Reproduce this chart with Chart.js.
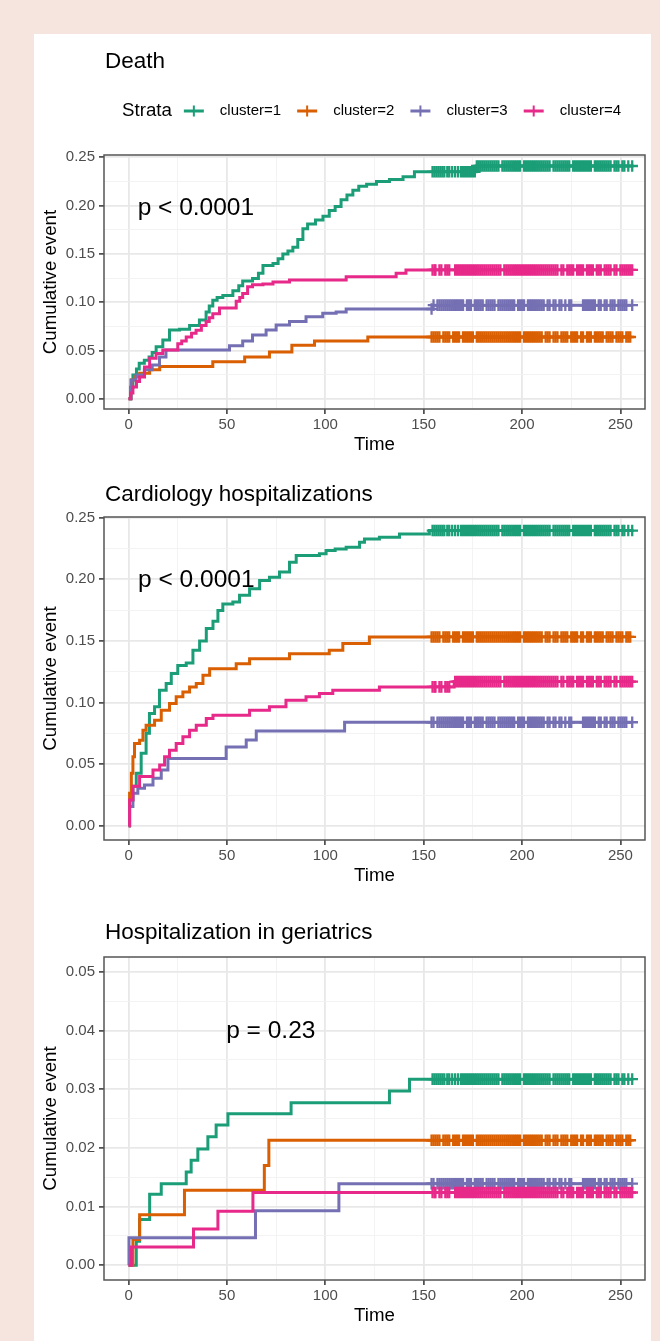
<!DOCTYPE html>
<html>
<head>
<meta charset="utf-8">
<script src="https://cdn.jsdelivr.net/npm/chart.js@4.4.0/dist/chart.umd.min.js"></script>
<style>
  body { margin: 0; background: #f6e4df; width: 660px; height: 1341px; overflow: hidden; position: relative; }
  #panel { position: absolute; left: 34px; top: 34px; width: 617px; height: 1307px; background: #fff; }
  canvas { position: absolute; left: 0; }
</style>
</head>
<body>
<div id="panel"></div>
<canvas id="deathChart" width="660" height="460" style="top:0"></canvas>
<canvas id="cardioChart" width="660" height="440" style="top:460px"></canvas>
<canvas id="geriChart" width="660" height="441" style="top:900px"></canvas>
<script>
const clusters = ["cluster=1", "cluster=2", "cluster=3", "cluster=4"];
const colors = ["#1B9E77", "#D95F02", "#7570B3", "#E7298A"];

const timeTicks = [0, 25, 50, 75, 100, 125, 150, 175, 200, 225, 250];
const timeLabels = ["0", "", "50", "", "100", "", "150", "", "200", "", "250"];
const riskTicks = [0, 0.025, 0.05, 0.075, 0.1, 0.125, 0.15, 0.175, 0.2, 0.225, 0.25];
const riskLabels = ["0.00", "", "0.05", "", "0.10", "", "0.15", "", "0.20", "", "0.25"];
const geriTicks = [0, 0.005, 0.01, 0.015, 0.02, 0.025, 0.03, 0.035, 0.04, 0.045, 0.05];
const geriLabels = ["0.00", "", "0.01", "", "0.02", "", "0.03", "", "0.04", "", "0.05"];

// censoring times (shared by the three outcomes, per cluster)
const censor1 = [154.5, 155.5, 156.5, 157.5, 158.5, 159.5, 160.5, 162, 163, 164.5, 166, 167.5, 169, 170, 171, 172, 173, 174, 175, 176,
  177, 178, 179, 180, 181, 182, 183, 184, 185, 186, 187, 188, 190, 191, 192, 193, 194, 195, 196, 197, 198, 199,
  201, 202, 203, 204, 205, 206, 207, 208, 209, 210, 211, 212, 213, 214, 216, 217, 218, 219, 220, 221, 222, 223, 224,
  226, 227, 228, 229, 230, 231, 232, 233, 234, 235, 237, 238, 239, 240, 241, 242, 243, 244, 245, 247, 248, 249, 251, 252, 254, 256];
const censor2 = [154, 155, 156, 157, 158, 160, 161, 162, 163, 165, 166, 167, 168, 170, 171, 172, 173, 174, 175,
  177, 178, 179, 180, 181, 182, 183, 184, 185, 186, 187, 188, 189, 190, 191, 192, 193, 194, 195, 196, 197, 198, 199,
  201, 202, 203, 204, 205, 206, 207, 208, 209, 210, 212, 213, 214, 216, 217, 218, 220, 221, 222, 223, 225, 226, 227, 228,
  230, 231, 233, 234, 235, 237, 238, 239, 240, 241, 243, 244, 245, 246, 248, 249, 250, 251, 253, 254, 255];
const censor3 = [154, 155, 157, 158, 159, 160, 161, 162, 163, 164, 165, 166, 167, 168, 169, 170, 172, 173, 174,
  176, 177, 178, 179, 180, 182, 183, 184, 185, 186, 188, 189, 190, 191, 192, 193, 194, 195, 196, 198, 199, 200, 201,
  203, 204, 205, 206, 207, 208, 209, 210, 211, 213, 214, 216, 217, 219, 220, 222, 224, 225,
  231, 232, 233, 234, 235, 236, 237, 239, 240, 242, 243, 245, 246, 247, 249, 250, 251, 252, 253, 256];
const censor4 = [154.5, 155.5, 156, 158, 159, 161, 162, 163, 166, 167, 168, 169, 170, 171, 172, 173, 174, 175, 176, 177, 178,
  179, 180, 181, 182, 183, 184, 185, 186, 187, 188, 189, 191, 192, 193, 194, 195, 196, 197, 198, 199, 200, 201, 202, 203,
  204, 205, 206, 207, 208, 209, 210, 211, 212, 213, 214, 215, 216, 217, 218, 220, 221, 223, 224, 225, 226, 228, 229, 230, 231,
  233, 234, 235, 236, 238, 239, 240, 242, 243, 244, 245, 247, 248, 250, 251, 252, 253, 254, 255, 256];

// Death: event times and cumulative event after each step
const deathT1 = [0, 1, 2.2, 4, 5.4, 8, 10.4, 12, 14, 17.4, 20.8, 25.9, 31, 36, 39.4, 41, 42.8, 45, 47.9, 53, 56, 58, 63, 66, 68.3, 73.4, 76, 78.4, 81, 83.5, 86, 88.6, 91, 95, 98.8, 102, 105, 108, 111, 114, 117, 121, 126, 132.6, 139.5, 145.3, 176.7];
const deathV1 = [0, 0.012, 0.0248, 0.031, 0.0369, 0.04, 0.0434, 0.048, 0.054, 0.061, 0.0713, 0.072, 0.076, 0.0816, 0.09, 0.096, 0.102, 0.105, 0.107, 0.112, 0.117, 0.122, 0.1245, 0.13, 0.138, 0.14, 0.145, 0.15, 0.153, 0.157, 0.165, 0.176, 0.181, 0.185, 0.189, 0.195, 0.199, 0.206, 0.211, 0.216, 0.22, 0.222, 0.225, 0.227, 0.23, 0.235, 0.241];
const deathT2 = [0, 1.3, 3, 5.6, 10.7, 15.8, 42.8, 59, 71.6, 83, 94.5, 121.6];
const deathV2 = [0, 0.0196, 0.023, 0.0265, 0.03, 0.0334, 0.0385, 0.0434, 0.0485, 0.0554, 0.06, 0.064];
const deathT3 = [0, 1.3, 3.8, 8, 12, 15.7, 19, 51.3, 58, 63, 69.9, 75, 81.8, 90.2, 98.7, 105.5, 110.6, 154.5];
const deathV3 = [0, 0.0196, 0.0248, 0.03, 0.035, 0.0434, 0.0506, 0.055, 0.06, 0.0661, 0.0713, 0.0764, 0.08, 0.085, 0.0885, 0.09, 0.093, 0.097];
const deathT4 = [0, 1, 2.2, 4, 5.6, 8.1, 10.7, 14, 17.4, 25, 27, 29.3, 32, 34.3, 37, 39.4, 41, 42.8, 46.2, 54.7, 56.5, 58, 60.5, 63, 68.3, 73.4, 81.8, 110.6, 136, 141];
const deathV4 = [0, 0.006, 0.0124, 0.018, 0.0227, 0.033, 0.042, 0.047, 0.0506, 0.057, 0.06, 0.064, 0.068, 0.071, 0.076, 0.08, 0.084, 0.088, 0.094, 0.101, 0.105, 0.109, 0.116, 0.118, 0.119, 0.121, 0.123, 0.1264, 0.13, 0.1334];

// Cardiology hospitalizations
const cardioT1 = [0, 0.5, 2.2, 3.9, 6.4, 8.9, 10.6, 13.2, 15.7, 19.1, 21.7, 25, 29.3, 32.7, 36.1, 39.5, 42.9, 45.4, 47.9, 53, 56.4, 61.5, 66.6, 71.6, 76.7, 81.8, 85.2, 97, 100.4, 105, 110.6, 117.4, 119.9, 127.5, 137.7, 152.9];
const cardioV1 = [0, 0.021, 0.032, 0.0426, 0.0588, 0.075, 0.0912, 0.0966, 0.11, 0.1154, 0.1235, 0.13, 0.132, 0.1424, 0.15, 0.16, 0.166, 0.1747, 0.18, 0.1815, 0.187, 0.1923, 0.199, 0.2017, 0.2058, 0.2138, 0.2192, 0.2206, 0.2233, 0.2245, 0.226, 0.23, 0.2327, 0.2341, 0.2368, 0.2395];
const cardioT2 = [0, 0.5, 1.4, 2.2, 3, 5.6, 7.3, 8.9, 13.2, 16.6, 20.8, 24.2, 27.6, 31, 34.4, 37.8, 41.2, 54.7, 61.5, 81.8, 102, 108.9, 122.4];
const cardioV2 = [0, 0.0264, 0.0426, 0.056, 0.0668, 0.0695, 0.0776, 0.0816, 0.0857, 0.0938, 0.0992, 0.1046, 0.1086, 0.1127, 0.1154, 0.1221, 0.1275, 0.1315, 0.1356, 0.1396, 0.1424, 0.1478, 0.1532];
const cardioT3 = [0, 0.5, 2.2, 4.7, 8.1, 12.4, 16.6, 20, 49.6, 59.8, 64.9, 109.8];
const cardioV3 = [0, 0.0156, 0.0264, 0.0304, 0.0331, 0.0385, 0.0453, 0.0547, 0.064, 0.0696, 0.077, 0.084];
const cardioT4 = [0, 0.5, 2.2, 5.6, 12.4, 15.8, 18.3, 20.8, 24.2, 27.6, 31, 34.4, 39.5, 42.9, 61.5, 71.6, 80, 90.2, 97, 103.8, 127.5, 165.5];
const cardioV4 = [0, 0.021, 0.032, 0.04, 0.0453, 0.0493, 0.056, 0.0614, 0.0668, 0.0722, 0.0776, 0.0816, 0.087, 0.0897, 0.0938, 0.0965, 0.1019, 0.1046, 0.1073, 0.11, 0.1127, 0.117];

// Hospitalization in geriatrics
const geriT1 = [0, 3.9, 5.6, 10.7, 16.6, 29.3, 31.8, 35.2, 40.3, 44.5, 50.5, 82.6, 132.6, 142.8];
const geriV1 = [0, 0.0041, 0.0078, 0.0121, 0.0139, 0.0159, 0.0179, 0.0198, 0.0219, 0.0239, 0.0258, 0.0277, 0.0297, 0.0317];
const geriT2 = [0, 2.2, 5.6, 28.4, 69, 71.3];
const geriV2 = [0, 0.0044, 0.0086, 0.0128, 0.017, 0.0213];
const geriT3 = [0, 0.2, 64.5, 106.9];
const geriV3 = [0, 0.0047, 0.0093, 0.0139];
const geriT4 = [0, 1.4, 33, 45.4, 63.2];
const geriV4 = [0, 0.0031, 0.0062, 0.0092, 0.0124];

const FONT = '"Liberation Sans", Arial, sans-serif';

function stepValue(times, values, t) {
    let v = values[0];
    for (let i = 0; i < times.length; i++) {
        if (times[i] <= t) v = values[i];
    }
    return v;
}

function buildDatasets(series) {
    const censors = [censor1, censor2, censor3, censor4];
    const sets = [];
    series.forEach(function(s, i) {
        const pts = s.t.map((t, j) => ({x: t, y: s.v[j]}));
        const last = censors[i][censors[i].length - 1];
        pts.push({x: last, y: s.v[s.v.length - 1]});
        sets.push({
            label: clusters[i],
            data: pts,
            borderColor: colors[i],
            borderWidth: 3,
            stepped: true,
            pointRadius: 0,
            fill: false,
            order: 8 - i
        });
        sets.push({
            label: clusters[i] + " censor",
            data: censors[i].map(t => ({x: t, y: stepValue(s.t, s.v, t)})),
            showLine: false,
            pointStyle: "cross",
            pointRadius: 5.8,
            pointBorderWidth: 2.3,
            pointBorderColor: colors[i],
            borderColor: colors[i],
            order: 4 - i
        });
    });
    return sets;
}

const panelPlugin = {
    id: "panel",
    afterDraw(chart, args, opts) {
        const ctx = chart.ctx;
        const a = chart.chartArea;
        const sx = chart.scales.x, sy = chart.scales.y;
        ctx.save();
        ctx.strokeStyle = "#555555";
        ctx.lineWidth = 1.5;
        ctx.strokeRect(a.left, a.top, a.right - a.left, a.bottom - a.top);

        ctx.fillStyle = "#000";
        ctx.textBaseline = "middle";
        ctx.textAlign = "left";
        ctx.font = "22.5px " + FONT;
        ctx.fillText(opts.title, 105, opts.titleY);

        ctx.font = "24.5px " + FONT;
        ctx.fillText(opts.pText, sx.getPixelForValue(opts.pX), sy.getPixelForValue(opts.pY));

        if (opts.legend) {
            const y = opts.legendY;
            let x = 122;
            ctx.font = "18.7px " + FONT;
            ctx.fillText("Strata", x, y);
            x += ctx.measureText("Strata").width + 12;
            ctx.font = "15px " + FONT;
            clusters.forEach(function(name, i) {
                ctx.strokeStyle = colors[i];
                ctx.lineWidth = 3;
                ctx.beginPath();
                ctx.moveTo(x, y);
                ctx.lineTo(x + 20, y);
                ctx.stroke();
                ctx.lineWidth = 2;
                ctx.beginPath();
                ctx.moveTo(x + 10, y - 5.5);
                ctx.lineTo(x + 10, y + 5.5);
                ctx.stroke();
                x += 36;
                ctx.fillStyle = "#000";
                ctx.fillText(name, x, y);
                x += ctx.measureText(name).width + 16;
            });
        }
        ctx.restore();
    }
};

function generateSurvivalChart(id, series, yMin, yMax, yTicks, yLabels, panel, padTop, padBottom) {
    const ctx = document.getElementById(id).getContext("2d");
    return new Chart(ctx, {
        type: "line",
        data: { datasets: buildDatasets(series) },
        plugins: [panelPlugin],
        options: {
            responsive: false,
            animation: false,
            devicePixelRatio: 1,
            layout: { padding: { left: 0, right: 15, top: padTop, bottom: padBottom } },
            plugins: {
                legend: { display: false },
                tooltip: { enabled: false },
                panel: panel
            },
            scales: {
                x: {
                    type: "linear",
                    min: -12.5,
                    max: 262.5,
                    afterBuildTicks: s => { s.ticks = timeTicks.map(v => ({value: v})); },
                    afterFit: s => { s.height = 51; },
                    ticks: {
                        autoSkip: false,
                        maxRotation: 0,
                        padding: 2,
                        color: "#4d4d4d",
                        font: { family: FONT, size: 15 },
                        callback: (v, i) => timeLabels[i]
                    },
                    grid: {
                        color: c => c.tick && c.tick.label ? "#e8e8e8" : "#f2f2f2",
                        lineWidth: c => c.tick && c.tick.label ? 1.8 : 0.9,
                        tickColor: c => c.tick && c.tick.label ? "#333333" : "rgba(0,0,0,0)",
                        tickLength: 5,
                        tickWidth: 1.5
                    },
                    border: { display: false },
                    title: {
                        display: true,
                        text: "Time",
                        color: "#000",
                        font: { family: FONT, size: 18.7 },
                        padding: { top: 0, bottom: 4 }
                    }
                },
                y: {
                    type: "linear",
                    min: yMin,
                    max: yMax,
                    afterBuildTicks: s => { s.ticks = yTicks.map(v => ({value: v})); },
                    afterFit: s => { s.width = 104; },
                    ticks: {
                        autoSkip: false,
                        padding: 4,
                        color: "#4d4d4d",
                        font: { family: FONT, size: 15 },
                        callback: (v, i) => yLabels[i]
                    },
                    grid: {
                        color: c => c.tick && c.tick.label ? "#e8e8e8" : "#f2f2f2",
                        lineWidth: c => c.tick && c.tick.label ? 1.8 : 0.9,
                        tickColor: c => c.tick && c.tick.label ? "#333333" : "rgba(0,0,0,0)",
                        tickLength: 5,
                        tickWidth: 1.5
                    },
                    border: { display: false },
                    title: {
                        display: true,
                        text: "Cumulative event",
                        color: "#000",
                        font: { family: FONT, size: 18.7 },
                        padding: { top: 40, bottom: 0 }
                    }
                }
            }
        }
    });
}

generateSurvivalChart("deathChart", [
    {t: deathT1, v: deathV1}, {t: deathT2, v: deathV2}, {t: deathT3, v: deathV3}, {t: deathT4, v: deathV4}
], -0.0105, 0.2524, riskTicks, riskLabels,
{ title: "Death", titleY: 62, pText: "p < 0.0001", pX: 4.6, pY: 0.197, legend: true, legendY: 111 }, 155, 0);

generateSurvivalChart("cardioChart", [
    {t: cardioT1, v: cardioV1}, {t: cardioT2, v: cardioV2}, {t: cardioT3, v: cardioV3}, {t: cardioT4, v: cardioV4}
], -0.0115, 0.2505, riskTicks, riskLabels,
{ title: "Cardiology hospitalizations", titleY: 35, pText: "p < 0.0001", pX: 4.8, pY: 0.199, legend: false }, 57, 9);

generateSurvivalChart("geriChart", [
    {t: geriT1, v: geriV1}, {t: geriT2, v: geriV2}, {t: geriT3, v: geriV3}, {t: geriT4, v: geriV4}
], -0.0025, 0.0525, geriTicks, geriLabels,
{ title: "Hospitalization in geriatrics", titleY: 33, pText: "p = 0.23", pX: 49.6, pY: 0.0398, legend: false }, 57, 10);
</script>
</body>
</html>
